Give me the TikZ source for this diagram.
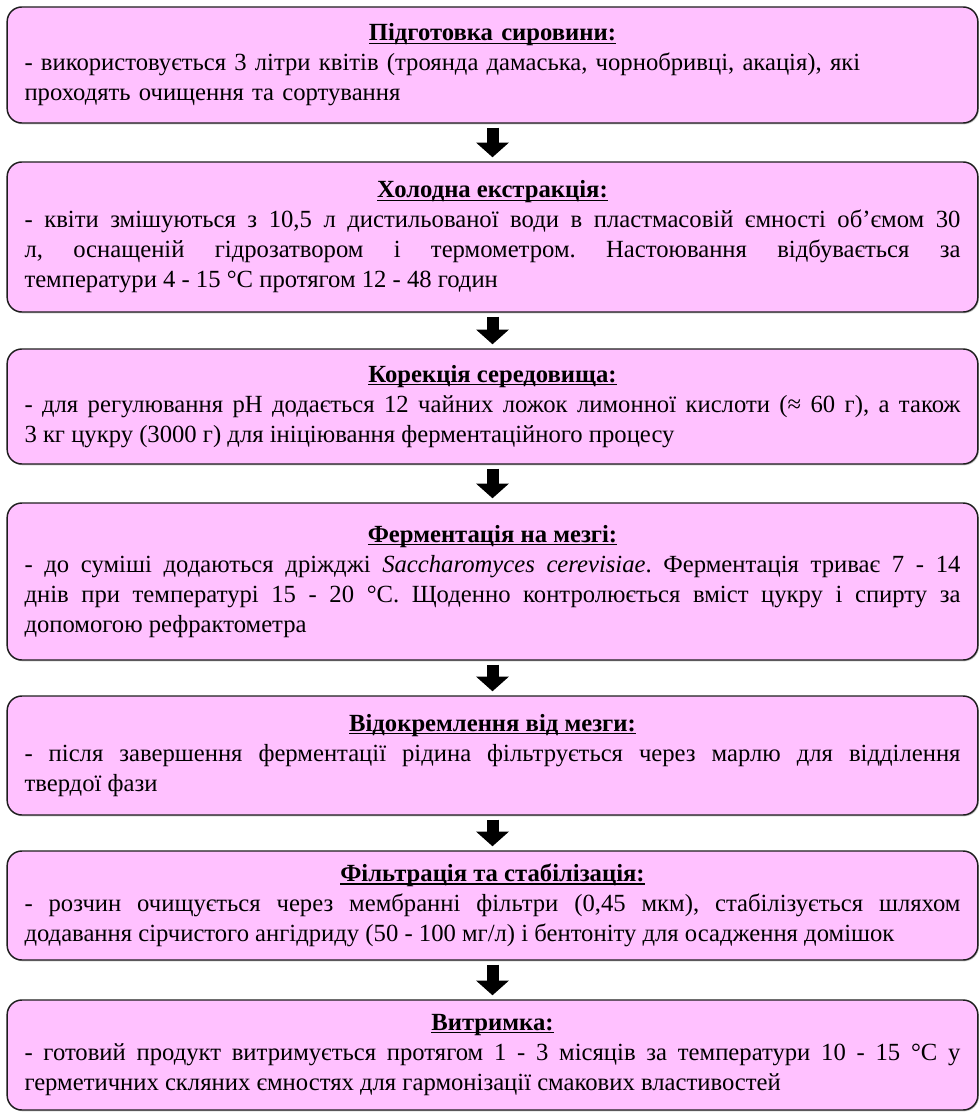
\documentclass[tikz,border=0pt]{standalone}
\usepackage{fontspec}
\setmainfont{Liberation Serif}
\usetikzlibrary{arrows.meta,shadows}

\tikzset{
  stage/.style={draw={rgb, 255:red, 30; green, 30; blue, 30}, line width=1.1pt,
    rounded corners=11pt, fill={rgb, 255:red, 255; green, 193; blue, 255},
    text width=702pt, inner xsep=13pt, inner ysep=3pt, align=justify,
    font=\fontsize{18.5}{22.5}\selectfont,
    drop shadow={shadow xshift=0.8pt, shadow yshift=-1pt, opacity=0.45}},
  flow/.style={line width=9pt, -{Triangle[width=24pt,length=11pt]},
    shorten <=3pt, shorten >=3pt},
}
\newsavebox{\headbox}
\newcommand{\stagehead}[1]{\makebox[\linewidth][c]{\sbox{\headbox}{\textbf{#1}}\rlap{\rule[-2.2pt]{\wd\headbox}{0.9pt}}\usebox{\headbox}}\\}
\frenchspacing

\begin{document}
\begin{tikzpicture}[x=0.75pt,y=0.75pt,yscale=-1,xscale=1]
\useasboundingbox (0,0) rectangle (980,1113);

% Stage boxes
\node (prep) at (492.5,65) [stage, minimum height=87pt, align=left]
  {\stagehead{Підготовка сировини:}- використовується 3 літри квітів (троянда дамаська, чорнобривці, акація), які\\проходять очищення та сортування};
\node (cold) at (492.5,237) [stage, minimum height=112.5pt]
  {\stagehead{Холодна екстракція:}- квіти змішуються з 10,5 л дистильованої води в пластмасовій ємності об’ємом 30 \linebreak л, оснащеній гідрозатвором і термометром. Настоювання відбувається за \linebreak температури 4 - 15~°C протягом 12 - 48 годин};
\node (corr) at (492.5,406.5) [stage, minimum height=86.25pt]
  {\stagehead{Корекція середовища:}- для регулювання pH додається 12 чайних ложок лимонної кислоти (≈ 60 г), а також \linebreak 3 кг цукру (3000 г) для ініціювання ферментаційного процесу};
\node (ferm) at (492.5,581.5) [stage, minimum height=117.75pt]
  {\stagehead{Ферментація на мезгі:}- до суміші додаються дріжджі \textit{Saccharomyces cerevisiae}. Ферментація триває 7 - 14 \linebreak днів при температурі 15 - 20~°C. Щоденно контролюється вміст цукру і спирту за \linebreak допомогою рефрактометра};
\node (sep) at (492.5,755.5) [stage, minimum height=89.25pt]
  {\stagehead{Відокремлення від мезги:}- після завершення ферментації рідина фільтрується через марлю для відділення \linebreak твердої фази};
\node (filt) at (492.5,905.5) [stage, minimum height=81.75pt]
  {\stagehead{Фільтрація та стабілізація:}- розчин очищується через мембранні фільтри (0,45 мкм), стабілізується шляхом \linebreak додавання сірчистого ангідриду (50 - 100 мг/л) і бентоніту для осадження домішок};
\node (aging) at (492.5,1055) [stage, minimum height=82.5pt]
  {\stagehead{Витримка:}- готовий продукт витримується протягом 1 - 3 місяців за температури 10 - 15~°C у \linebreak герметичних скляних ємностях для гармонізації смакових властивостей};

% Arrows
\draw [flow] (prep) -- (cold);
\draw [flow] (cold) -- (corr);
\draw [flow] (corr) -- (ferm);
\draw [flow] (ferm) -- (sep);
\draw [flow] (sep) -- (filt);
\draw [flow] (filt) -- (aging);

\end{tikzpicture}
\end{document}
